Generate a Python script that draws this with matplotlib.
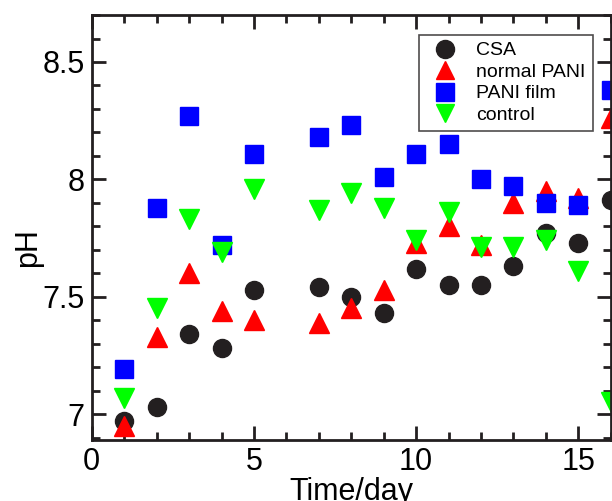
import numpy as np
import matplotlib
matplotlib.use('Agg')
import matplotlib.pyplot as plt
from matplotlib.ticker import MultipleLocator

plt.rcParams['font.family'] = ['Liberation Sans', 'DejaVu Sans']

# pH readings per day
days       = [1, 2, 3, 4, 5, 7, 8, 9, 10, 11, 12, 13, 14, 15, 16]
csa        = [6.97, 7.03, 7.34, 7.28, 7.53, 7.54, 7.50, 7.43, 7.62, 7.55, 7.55, 7.63, 7.77, 7.73, 7.91]
normal_pani = [6.95, 7.33, 7.60, 7.44, 7.40, 7.39, 7.45, 7.53, 7.73, 7.80, 7.72, 7.90, 7.95, 7.92, 8.26]
pani_film  = [7.19, 7.88, 8.27, 7.72, 8.11, 8.18, 8.23, 8.01, 8.11, 8.15, 8.00, 7.97, 7.90, 7.89, 8.38]
control    = [7.07, 7.45, 7.83, 7.69, 7.96, 7.87, 7.94, 7.88, 7.74, 7.86, 7.71, 7.71, 7.74, 7.61, 7.05]

fig = plt.figure(figsize=(6.12, 5.01), dpi=100)
ax = fig.add_axes([0.150, 0.122, 0.848, 0.848])

ax.plot(days, csa, 'o', color='#231f20', ms=13, mec='#231f20', label='CSA')
ax.plot(days, normal_pani, '^', color='#ff0000', ms=14, mec='#ff0000', label='normal PANI')
ax.plot(days, pani_film, 's', color='#0000ff', ms=13, mec='#0000ff', label='PANI film')
ax.plot(days, control, 'v', color='#00ff00', ms=14, mec='#00ff00', label='control')

ax.set_xlim(0, 16)
ax.set_ylim(6.89, 8.70)
ax.xaxis.set_major_locator(MultipleLocator(5))
ax.xaxis.set_minor_locator(MultipleLocator(1))
ax.yaxis.set_minor_locator(MultipleLocator(0.1))
ax.set_yticks([7, 7.5, 8, 8.5])
ax.set_yticklabels(['7', '7.5', '8', '8.5'])

ax.tick_params(which='both', direction='in', top=True, right=True,
               labelsize=22, width=2, color='#231f20')
ax.tick_params(which='major', length=10, pad=5)
ax.tick_params(which='minor', length=6)
for s in ax.spines.values():
    s.set_linewidth(2)
    s.set_color('#231f20')

# the reference crops the bottom of the x label slightly
ax.set_xlabel('Time/day', fontsize=22, labelpad=0)
ax.set_ylabel('pH', fontsize=22)
ax.yaxis.set_label_coords(-0.094, 0.452)

leg = ax.legend(loc='upper right', bbox_to_anchor=(0.965, 0.953),
                fontsize=14, frameon=True, fancybox=False,
                handletextpad=0.6, borderpad=0.35, labelspacing=0.2,
                handlelength=2.0, borderaxespad=0)
leg.get_frame().set_edgecolor('#231f20')
leg.get_frame().set_linewidth(1.2)
for h in leg.legend_handles:
    h.set_markersize(13)

fig.savefig('out.png', dpi=100)
